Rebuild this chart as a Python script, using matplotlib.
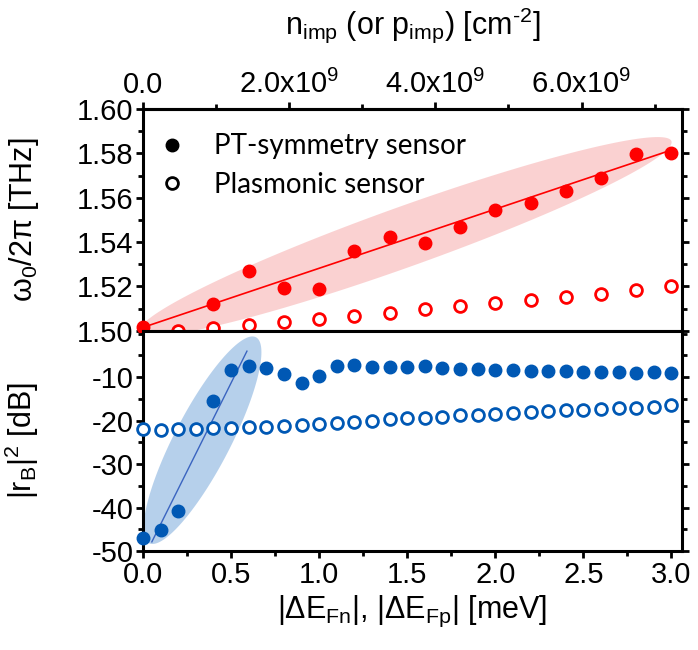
import numpy as np
import matplotlib
matplotlib.use('Agg')
import matplotlib.pyplot as plt
from matplotlib.lines import Line2D
from matplotlib.patches import Polygon
from matplotlib.ticker import MultipleLocator

plt.rcParams['font.family'] = ['Liberation Sans', 'DejaVu Sans']
plt.rcParams['mathtext.fontset'] = 'custom'
plt.rcParams['mathtext.rm'] = 'Liberation Sans'
plt.rcParams['mathtext.it'] = 'Liberation Sans:italic'
plt.rcParams['mathtext.default'] = 'regular'
plt.rcParams['axes.unicode_minus'] = False

# ---- data ----
# upper panel: resonance frequency [THz]
pt_x = [0.0, 0.4, 0.6, 0.8, 1.0, 1.2, 1.4, 1.6, 1.8, 2.0, 2.2, 2.4, 2.6, 2.8, 3.0]
pt_freq = [1.5016, 1.5119, 1.5271, 1.5191, 1.5186, 1.5360, 1.5423, 1.5395,
           1.5468, 1.5546, 1.5578, 1.5628, 1.5687, 1.5795, 1.5802]
pl_x = [0.2, 0.4, 0.6, 0.8, 1.0, 1.2, 1.4, 1.6, 1.8, 2.0, 2.2, 2.4, 2.6, 2.8, 3.0]
pl_freq = [1.4998, 1.5011, 1.5026, 1.5039, 1.5054, 1.5067, 1.5082, 1.5096,
           1.5112, 1.5127, 1.5140, 1.5152, 1.5167, 1.5183, 1.5200]
freq_fit_x = [0.0, 3.0]
freq_fit_y = [1.5015, 1.5815]

# lower panel: |r_B|^2 [dB]
pt_x2 = [0.0, 0.1, 0.2, 0.4, 0.5, 0.6, 0.7, 0.8, 0.9, 1.0, 1.1, 1.2, 1.3, 1.4, 1.5,
         1.6, 1.7, 1.8, 1.9, 2.0, 2.1, 2.2, 2.3, 2.4, 2.5, 2.6, 2.7, 2.8, 2.9, 3.0]
pt_rb = [-46.9, -45.2, -40.8, -15.5, -8.3, -7.5, -7.8, -9.2, -11.4, -9.7, -7.5, -7.3,
         -7.7, -7.7, -7.7, -7.5, -7.8, -8.0, -8.2, -8.3, -8.3, -8.5, -8.5, -8.5,
         -8.7, -8.8, -8.9, -9.1, -8.9, -9.1]
pl_x2 = [0.0, 0.1, 0.2, 0.3, 0.4, 0.5, 0.6, 0.7, 0.8, 0.9, 1.0, 1.1, 1.2, 1.3, 1.4, 1.5,
         1.6, 1.7, 1.8, 1.9, 2.0, 2.1, 2.2, 2.3, 2.4, 2.5, 2.6, 2.7, 2.8, 2.9, 3.0]
pl_rb = [-22.0, -22.2, -22.0, -21.85, -21.7, -21.6, -21.5, -21.4, -21.2, -21.0, -20.8,
         -20.6, -20.3, -20.1, -19.7, -19.5, -19.3, -19.2, -18.8, -18.7, -18.5, -18.3,
         -18.1, -17.8, -17.6, -17.5, -17.4, -17.2, -17.0, -16.8, -16.4]
rb_fit_x = [0.05, 0.59]
rb_fit_y = [-47.9, -4.0]

# highlighted regions: the two tips of each ellipse (data units)
red_tips = [(-0.02, 1.4995), (3.0, 1.5855)]
blue_tips = [(0.034, -48.2), (0.641, -0.8)]

# top axis conversion: meV -> cm^-2
k_imp = 2.41e9
top_ticks = [0.0, 2e9, 4e9, 6e9]
top_labels = ['0.0', '2.0x10$^9$', '4.0x10$^9$', '6.0x10$^9$']

RED = '#ff0000'
BLUE = '#0058b4'

fig = plt.figure(figsize=(6.98, 6.5), dpi=100)
ax1 = fig.add_axes([0.2049, 0.4912, 0.7722, 0.3411])
ax2 = fig.add_axes([0.2049, 0.1523, 0.7722, 0.3389])

ax1.set_xlim(0, 3.06)
ax1.set_ylim(1.50, 1.60)
ax2.set_xlim(0, 3.06)
ax2.set_ylim(-50, 0.7)


def add_ellipse(ax, tips, half_w, color, alpha):
    # build the ellipse in pixel space so it looks round on screen
    p0, p1 = ax.transData.transform(tips)
    c = (p0 + p1) / 2
    a = (p1 - p0) / 2
    u = a / np.linalg.norm(a)
    b = np.array([-u[1], u[0]]) * half_w
    t = np.linspace(0, 2 * np.pi, 200)
    pts = c + np.outer(np.cos(t), a) + np.outer(np.sin(t), b)
    pts = ax.transData.inverted().transform(pts)
    ax.add_patch(Polygon(pts, closed=True, facecolor=color, alpha=alpha,
                         edgecolor='none', zorder=1))


add_ellipse(ax1, red_tips, 30, '#f59a9a', 0.45)
add_ellipse(ax2, blue_tips, 28, '#6fa2d8', 0.5)

ax1.plot(freq_fit_x, freq_fit_y, color=RED, lw=1.2, zorder=2)
ax1.plot(pt_x, pt_freq, 'o', color=RED, ms=9, zorder=3, clip_on=False)
ax1.plot(pl_x, pl_freq, 'o', mfc='white', mec=RED, mew=2, ms=8.5, zorder=3, clip_on=False)

ax2.plot(rb_fit_x, rb_fit_y, color='#3a64c0', lw=1.0, zorder=2)
ax2.plot(pt_x2, pt_rb, 'o', color=BLUE, ms=9, zorder=3, clip_on=False)
ax2.plot(pl_x2, pl_rb, 'o', mfc='white', mec=BLUE, mew=2, ms=8.5, zorder=3, clip_on=False)

# legend
handles = [Line2D([], [], marker='o', ls='none', color='k', ms=9),
           Line2D([], [], marker='o', ls='none', mfc='white', mec='k', mew=2, ms=8.5)]
ax1.legend(handles, ['PT-symmetry sensor', 'Plasmonic sensor'], loc='upper left',
           bbox_to_anchor=(0.028, 0.89), frameon=False, handlelength=1.0,
           handletextpad=1.0, labelspacing=0.45, borderpad=0, borderaxespad=0,
           prop={'family': 'Lato', 'size': 20})

# axes styling
for ax in (ax1, ax2):
    for s in ax.spines.values():
        s.set_linewidth(2.2)
    ax.xaxis.set_major_locator(MultipleLocator(0.5))
    ax.xaxis.set_minor_locator(MultipleLocator(0.25))
    ax.tick_params(which='both', direction='out', width=2, labelsize=21,
                   right=True, top=False, pad=2)
    ax.tick_params(which='major', length=5)
    ax.tick_params(which='minor', length=3.5)

ax1.yaxis.set_major_locator(MultipleLocator(0.02))
ax1.yaxis.set_minor_locator(MultipleLocator(0.01))
ax1.set_yticks([1.50, 1.52, 1.54, 1.56, 1.58, 1.60])
ax1.set_yticklabels(['1.50', '1.52', '1.54', '1.56', '1.58', '1.60'])
ax1.tick_params(labelbottom=False)

ax2.yaxis.set_major_locator(MultipleLocator(10))
ax2.yaxis.set_minor_locator(MultipleLocator(5))
ax2.set_yticks([-50, -40, -30, -20, -10])
ax2.set_xticks([0, 0.5, 1.0, 1.5, 2.0, 2.5, 3.0])
ax2.set_xticklabels(['0.0', '0.5', '1.0', '1.5', '2.0', '2.5', '3.0'])

sec = ax1.secondary_xaxis('top', functions=(lambda e: e * k_imp, lambda n: n / k_imp))
sec.set_xticks(top_ticks, labels=top_labels)
sec.xaxis.set_minor_locator(MultipleLocator(1e9))
sec.tick_params(which='both', direction='out', width=2, labelsize=21, pad=2)
sec.tick_params(which='major', length=5)
sec.tick_params(which='minor', length=3.5)
sec.spines['top'].set_linewidth(2.2)
sec.set_xlabel('n$_{imp}$ (or p$_{imp}$) [cm$^{\u2010 2}$]', fontsize=22, labelpad=26)

ax1.set_ylabel('ω$_0$/2π [THz]', fontsize=22)
ax2.set_ylabel('|r$_B$|$^2$ [dB]', fontsize=22)
ax1.yaxis.set_label_coords(-0.19, 0.5)
ax2.yaxis.set_label_coords(-0.19, 0.5)
ax2.set_xlabel('|ΔE$_{Fn}$|, |ΔE$_{Fp}$| [meV]', fontsize=22, labelpad=4)

fig.savefig('out.png', dpi=100)
